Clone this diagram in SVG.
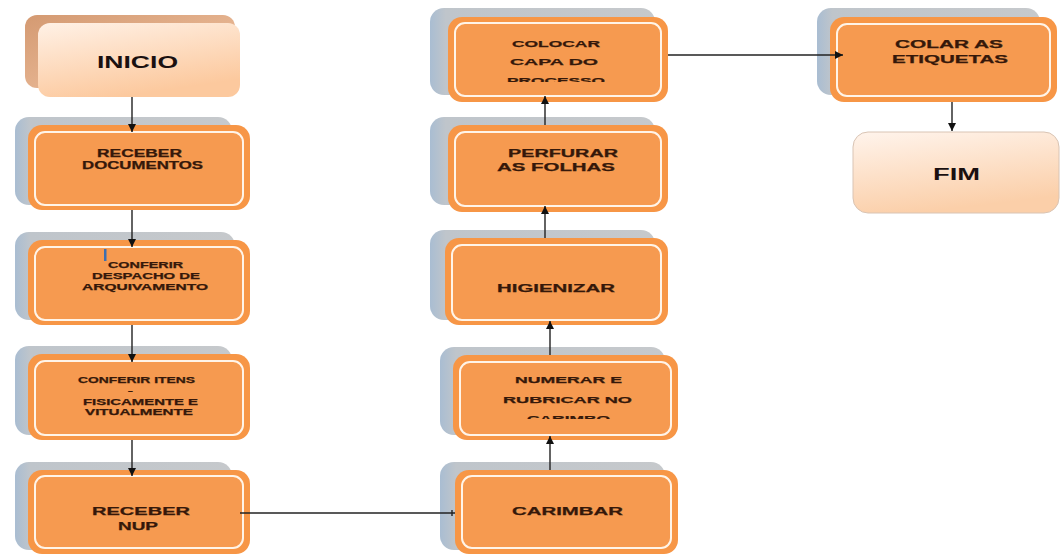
<svg xmlns="http://www.w3.org/2000/svg" width="1060" height="554" viewBox="0 0 1060 554">
<defs>
<linearGradient id="shd" x1="0" y1="0" x2="1" y2="0">
<stop offset="0" stop-color="#a9bdd2"/><stop offset="0.07" stop-color="#bfc5cb"/><stop offset="1" stop-color="#c6c9cc"/>
</linearGradient>
<linearGradient id="peach" x1="0" y1="0" x2="0.3" y2="1">
<stop offset="0" stop-color="#fff4ec"/><stop offset="1" stop-color="#fbcfa9"/>
</linearGradient>
<linearGradient id="tan" x1="0" y1="0" x2="1" y2="1">
<stop offset="0" stop-color="#d49a72"/><stop offset="1" stop-color="#f2c6a6"/>
</linearGradient>
<linearGradient id="peach2" x1="0" y1="0" x2="0.4" y2="1">
<stop offset="0" stop-color="#fff1e6"/><stop offset="1" stop-color="#fcc99e"/>
</linearGradient>
<marker id="ah" viewBox="0 0 10 10" refX="10" refY="5" markerWidth="10" markerHeight="8" markerUnits="userSpaceOnUse" orient="auto">
<path d="M0,0 L10,5 L0,10 z" fill="#111"/>
</marker>
<clipPath id="c1"><rect x="448" y="17" width="220" height="65"/></clipPath>
<clipPath id="c2"><rect x="453" y="355" width="225" height="64"/></clipPath>
</defs>
<style>
.sh{fill:url(#shd)}
.fr{fill:#f79646}
.in{fill:#f69a50;stroke:#fff4e8;stroke-width:2}
.t{font-family:"Liberation Sans",Arial,sans-serif;font-weight:bold;fill:#35180a;stroke:#35180a;stroke-width:0.25}
.big{font-family:"Liberation Sans",Arial,sans-serif;font-weight:bold;fill:#1a1010}
.ln{stroke:#222;stroke-width:1.4;fill:none}
</style>

<g id="inicio">
<rect x="25" y="15" width="210" height="73" rx="12" fill="url(#tan)"/>
<rect x="38" y="23" width="202" height="74" rx="12" fill="url(#peach2)"/>
<text class="big" x="97" y="68" font-size="16" textLength="81" lengthAdjust="spacingAndGlyphs">INICIO</text>
</g>

<g id="receber-documentos">
<rect class="sh" x="15" y="117" width="217" height="88" rx="14"/>
<rect class="fr" x="28" y="125" width="222" height="85" rx="14"/>
<rect class="in" x="35" y="132" width="208" height="73" rx="10"/>
<text class="t" x="97" y="157" font-size="10" textLength="85" lengthAdjust="spacingAndGlyphs">RECEBER</text>
<text class="t" x="82" y="169" font-size="10" textLength="121" lengthAdjust="spacingAndGlyphs">DOCUMENTOS</text>
</g>

<g id="conferir-despacho">
<rect class="sh" x="15" y="232" width="220" height="88" rx="14"/>
<rect class="fr" x="28" y="240" width="222" height="85" rx="14"/>
<rect class="in" x="35" y="247" width="208" height="73" rx="10"/>
<rect x="104" y="249" width="2.5" height="12" fill="#3d6fb0"/>
<text class="t" x="108" y="268" font-size="8.5" textLength="75" lengthAdjust="spacingAndGlyphs">CONFERIR</text>
<text class="t" x="92" y="279" font-size="8.5" textLength="108" lengthAdjust="spacingAndGlyphs">DESPACHO DE</text>
<text class="t" x="82" y="290" font-size="8.5" textLength="126" lengthAdjust="spacingAndGlyphs">ARQUIVAMENTO</text>
</g>

<g id="conferir-itens">
<rect class="sh" x="15" y="346" width="217" height="89" rx="14"/>
<rect class="fr" x="28" y="354" width="222" height="86" rx="14"/>
<rect class="in" x="35" y="361" width="208" height="74" rx="10"/>
<text class="t" x="78" y="383" font-size="8.5" textLength="117" lengthAdjust="spacingAndGlyphs">CONFERIR ITENS</text>
<text class="t" x="128" y="394" font-size="8.5">–</text>
<text class="t" x="83" y="405" font-size="8.5" textLength="115" lengthAdjust="spacingAndGlyphs">FISICAMENTE E</text>
<text class="t" x="85" y="415" font-size="8.5" textLength="108" lengthAdjust="spacingAndGlyphs">VITUALMENTE</text>
</g>

<g id="receber-nup">
<rect class="sh" x="15" y="462" width="217" height="88" rx="14"/>
<rect class="fr" x="28" y="470" width="222" height="84" rx="14"/>
<rect class="in" x="35" y="476" width="208" height="72" rx="10"/>
<text class="t" x="92" y="515" font-size="11.5" textLength="98" lengthAdjust="spacingAndGlyphs">RECEBER</text>
<text class="t" x="118" y="530" font-size="11.5" textLength="40" lengthAdjust="spacingAndGlyphs">NUP</text>
</g>

<g id="carimbar">
<rect class="sh" x="440" y="462" width="225" height="88" rx="14"/>
<rect class="fr" x="455" y="470" width="223" height="84" rx="14"/>
<rect class="in" x="462" y="476" width="209" height="72" rx="10"/>
<text class="t" x="512" y="515" font-size="11.5" textLength="111" lengthAdjust="spacingAndGlyphs">CARIMBAR</text>
</g>

<g id="numerar">
<rect class="sh" x="440" y="347" width="225" height="88" rx="14"/>
<rect class="fr" x="453" y="355" width="225" height="85" rx="14"/>
<rect class="in" x="460" y="362" width="211" height="73" rx="10"/>
<text class="t" x="515" y="383" font-size="9.5" textLength="107" lengthAdjust="spacingAndGlyphs">NUMERAR E</text>
<text class="t" x="503" y="403" font-size="9.5" textLength="129" lengthAdjust="spacingAndGlyphs">RUBRICAR NO</text>
<text class="t" x="527" y="422" font-size="9.5" textLength="83" lengthAdjust="spacingAndGlyphs" clip-path="url(#c2)">CARIMBO</text>
</g>

<g id="higienizar">
<rect class="sh" x="430" y="230" width="225" height="90" rx="14"/>
<rect class="fr" x="445" y="238" width="223" height="87" rx="14"/>
<rect class="in" x="452" y="245" width="209" height="75" rx="10"/>
<text class="t" x="497" y="292" font-size="11.5" textLength="118" lengthAdjust="spacingAndGlyphs">HIGIENIZAR</text>
</g>

<g id="perfurar">
<rect class="sh" x="430" y="117" width="225" height="88" rx="14"/>
<rect class="fr" x="448" y="125" width="220" height="87" rx="14"/>
<rect class="in" x="455" y="132" width="206" height="74" rx="10"/>
<text class="t" x="508" y="157" font-size="10.5" textLength="110" lengthAdjust="spacingAndGlyphs">PERFURAR</text>
<text class="t" x="497" y="171" font-size="10.5" textLength="118" lengthAdjust="spacingAndGlyphs">AS FOLHAS</text>
</g>

<g id="colocar-capa">
<rect class="sh" x="430" y="8" width="225" height="87" rx="14"/>
<rect class="fr" x="448" y="17" width="220" height="85" rx="14"/>
<rect class="in" x="455" y="23" width="206" height="73" rx="10"/>
<text class="t" x="512" y="47" font-size="9.5" textLength="88" lengthAdjust="spacingAndGlyphs">COLOCAR</text>
<text class="t" x="510" y="65" font-size="9.5" textLength="88" lengthAdjust="spacingAndGlyphs">CAPA DO</text>
<text class="t" x="507" y="84" font-size="9.5" textLength="98" lengthAdjust="spacingAndGlyphs" clip-path="url(#c1)">PROCESSO</text>
</g>

<g id="colar-etiquetas">
<rect class="sh" x="817" y="8" width="223" height="87" rx="14"/>
<rect class="fr" x="830" y="17" width="227" height="85" rx="14"/>
<rect class="in" x="837" y="24" width="213" height="72" rx="10"/>
<text class="t" x="895" y="48" font-size="10.5" textLength="108" lengthAdjust="spacingAndGlyphs">COLAR AS</text>
<text class="t" x="892" y="63" font-size="10.5" textLength="116" lengthAdjust="spacingAndGlyphs">ETIQUETAS</text>
</g>

<g id="fim">
<rect x="853" y="132" width="206" height="81" rx="15" fill="url(#peach)" stroke="#d9c4b4" stroke-width="1"/>
<text class="big" x="933" y="180" font-size="16" textLength="47" lengthAdjust="spacingAndGlyphs">FIM</text>
</g>

<g id="connectors">
<line class="ln" x1="132" y1="97" x2="132" y2="132" marker-end="url(#ah)"/>
<line class="ln" x1="132" y1="210" x2="132" y2="247" marker-end="url(#ah)"/>
<line class="ln" x1="132" y1="325" x2="132" y2="362" marker-end="url(#ah)"/>
<line class="ln" x1="132" y1="440" x2="132" y2="476" marker-end="url(#ah)"/>
<line class="ln" x1="240" y1="513" x2="455" y2="513"/>
<line class="ln" x1="452" y1="510" x2="452" y2="516"/>
<line class="ln" x1="550" y1="470" x2="550" y2="436" marker-end="url(#ah)"/>
<line class="ln" x1="550" y1="355" x2="550" y2="321" marker-end="url(#ah)"/>
<line class="ln" x1="545" y1="238" x2="545" y2="206" marker-end="url(#ah)"/>
<line class="ln" x1="545" y1="125" x2="545" y2="96" marker-end="url(#ah)"/>
<line class="ln" x1="668" y1="55" x2="843" y2="55" marker-end="url(#ah)"/>
<line class="ln" x1="952" y1="102" x2="952" y2="131" marker-end="url(#ah)"/>
</g>
</svg>
